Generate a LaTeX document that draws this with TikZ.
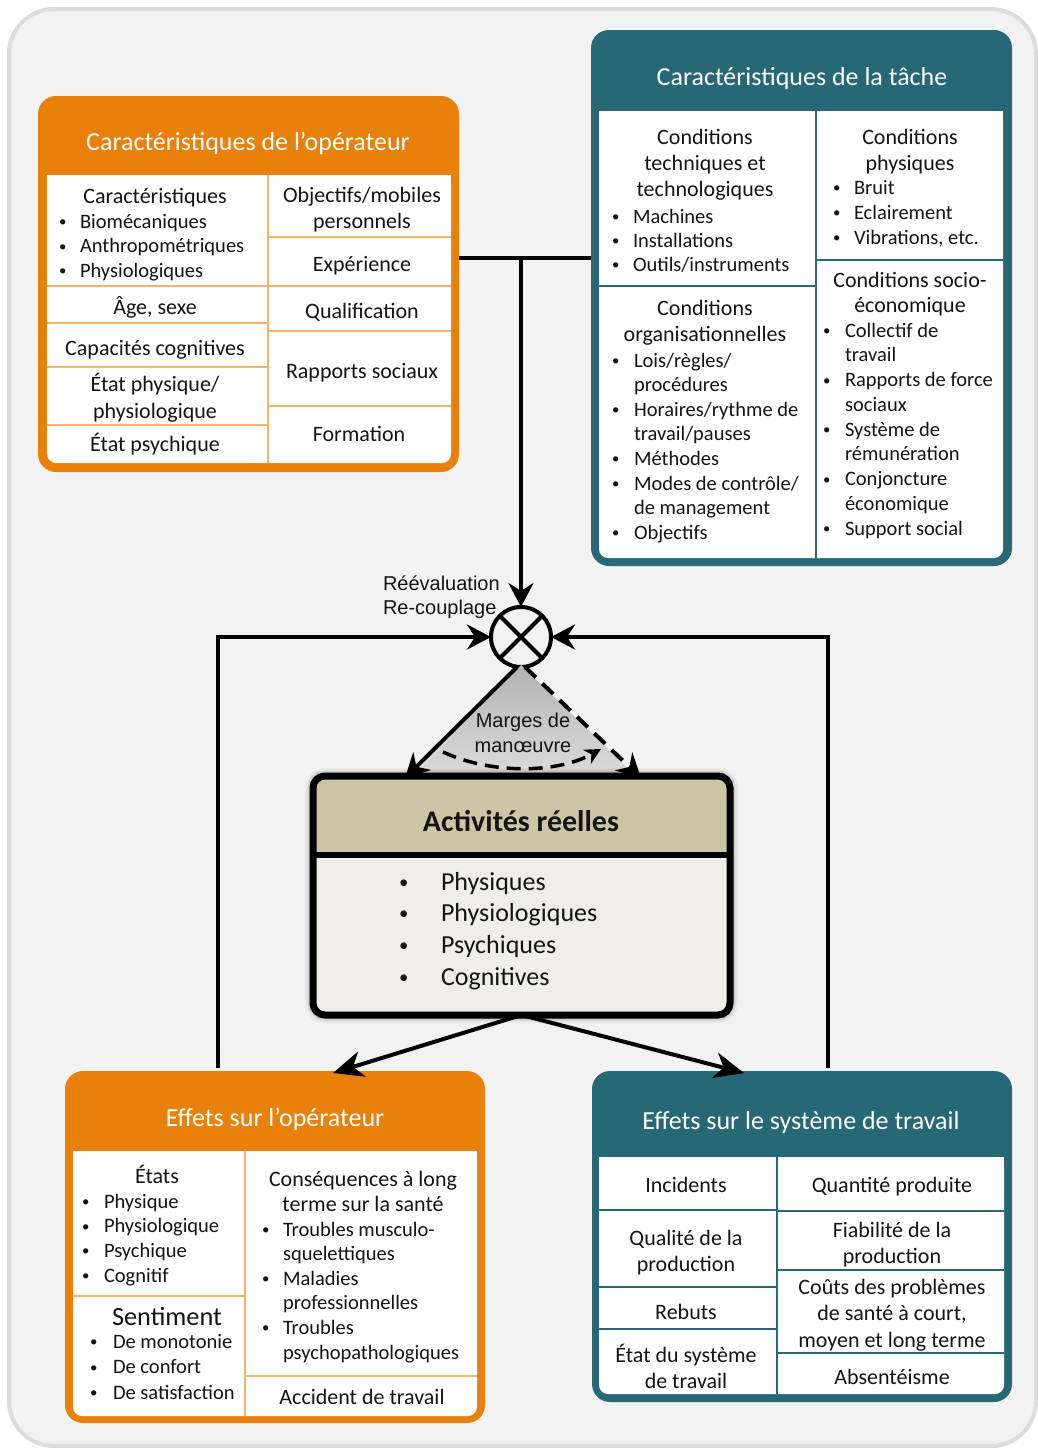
\documentclass[tikz,border=0pt]{standalone}
\usepackage{fontspec}
\usepackage{graphicx}
\setmainfont{Carlito}
\newfontfamily\arialf{Liberation Sans}
\usetikzlibrary{arrows.meta}
\definecolor{orng}{RGB}{232,128,10}
\definecolor{orngl}{RGB}{246,178,105}
\definecolor{tealc}{RGB}{38,104,118}
\definecolor{bgc}{RGB}{242,242,242}
\definecolor{bgline}{RGB}{220,220,220}
\definecolor{tanc}{RGB}{206,197,166}
\definecolor{actbody}{RGB}{239,238,232}
\definecolor{txt}{RGB}{20,20,20}
\newlength\bwid
\newcommand\bu{\makebox[\bwid][l]{\raisebox{0.07em}{\scalebox{0.72}{•}}}}
\newcommand\bc{\hspace*{\bwid}}
\newcommand\blist[2]{\setlength\bwid{#1}\begin{tabular}[t]{@{}l@{}}#2\end{tabular}}
\newcommand\ctab[1]{\begin{tabular}[t]{@{}c@{}}#1\end{tabular}}
\begin{document}
\begin{tikzpicture}[x=1pt,y=-1pt,
  every node/.style={inner sep=0pt, outer sep=0pt, text=txt},
  bd/.style={font=\fontsize{22}{25}\selectfont, anchor=base},
  bl/.style={font=\fontsize{20.5}{24.6}\selectfont, anchor=base west},
  ttl/.style={font=\fontsize{26}{30}\selectfont, text=white, anchor=base},
  obox/.style={fill=orng, rounded corners=18pt},
  tbox/.style={fill=tealc, rounded corners=18pt},
  cellO/.style={draw=orngl, line width=2pt},
  cellT/.style={draw=tealc, line width=2pt},
  conn/.style={line width=4pt, black},
  arr/.style={-{Stealth[length=24pt,width=25pt,inset=8pt]}},
  arrb/.style={-{Stealth[length=30pt,width=26pt,inset=9pt]}},
  lbl/.style={font=\arialf\fontsize{20}{24}\selectfont, anchor=base}
]
\useasboundingbox (0,0) rectangle (1038,1448);
\fill[white] (0,0) rectangle (1038,1448);
\draw[bgline, line width=4pt, fill=bgc, rounded corners=45pt] (9,9) rectangle (1036,1446);

% ---------- Caracteristiques de l'operateur ----------
\node[obox, minimum width=421pt, minimum height=376pt] (op) at (248.5,284) {};
\fill[white, rounded corners=9pt] (47,175) rectangle (451,463);
\fill[white] (47,175) rectangle (451,200);
\draw[cellO] (268,175) -- (268,463);
\draw[cellO] (47,286) -- (268,286) (47,323) -- (268,323) (47,367) -- (268,367) (47,425) -- (268,425);
\draw[cellO] (268,237) -- (451,237) (268,286) -- (451,286) (268,331) -- (451,331) (268,406) -- (451,406);
\node[ttl] (opT) at (248,150) {Caractéristiques de l’opérateur};
\node[bd] (o1) at (155,203) {Caractéristiques};
\node[bl] (o2) at (59,228) {\blist{21pt}{\bu Biomécaniques\\\bu Anthropométriques\\\bu Physiologiques}};
\node[bd] (o3) at (155,314) {Âge, sexe};
\node[bd] (o4) at (155,355) {Capacités cognitives};
\node[bd, font=\fontsize{22}{27}\selectfont] (o5) at (155,391) {\ctab{État physique/\\physiologique}};
\node[bd] (o6) at (155,451) {État psychique};
\node[bd, font=\fontsize{22}{26}\selectfont] (o7) at (362,202) {\ctab{Objectifs/mobiles\\personnels}};
\node[bd] (o8) at (362,271) {Expérience};
\node[bd] (o9) at (362,318) {Qualification};
\node[bd] (o10) at (362,378) {Rapports sociaux};
\node[bd] (o11) at (359,441) {Formation};

% ---------- Caracteristiques de la tache ----------
\node[tbox, minimum width=421pt, minimum height=536pt] (task) at (801.5,298) {};
\fill[white, rounded corners=9pt] (599,111) rectangle (1003,558);
\fill[white] (599,111) rectangle (1003,140);
\draw[cellT] (816,111) -- (816,558);
\draw[cellT] (599,286) -- (816,286) (816,260) -- (1003,260);
\node[ttl] (taskT) at (802,85) {Caractéristiques de la tâche};
\node[bd, font=\fontsize{22}{26}\selectfont] (t1) at (705,144) {\ctab{Conditions\\techniques et\\technologiques}};
\node[bl, font=\fontsize{20.5}{24}\selectfont] (t2) at (612,223) {\blist{21pt}{\bu Machines\\\bu Installations\\\bu Outils/instruments}};
\node[bd, font=\fontsize{22}{26}\selectfont] (t3) at (705,315) {\ctab{Conditions\\organisationnelles}};
\node[bl] (t4) at (612,367) {\blist{22pt}{\bu Lois/règles/\\\bc procédures\\\bu Horaires/rythme de\\\bc travail/pauses\\\bu Méthodes\\\bu Modes de contrôle/\\\bc de management\\\bu Objectifs}};
\node[bd, font=\fontsize{22}{26}\selectfont] (t5) at (910,144) {\ctab{Conditions\\physiques}};
\node[bl, font=\fontsize{20.5}{25}\selectfont] (t6) at (833,194) {\blist{21pt}{\bu Bruit\\\bu Eclairement\\\bu Vibrations, etc.}};
\node[bd, font=\fontsize{22}{25}\selectfont] (t7) at (910,287) {\ctab{Conditions socio-\\économique}};
\node[bl, font=\fontsize{20.5}{24.75}\selectfont] (t8) at (823,337) {\blist{22pt}{\bu Collectif de\\\bc travail\\\bu Rapports de force\\\bc sociaux\\\bu Système de\\\bc rémunération\\\bu Conjoncture\\\bc économique\\\bu Support social}};

% ---------- connectors top ----------
\coordinate (j) at (521,258);
\node[draw, circle, line width=4pt, minimum size=60pt, fill=bgc] (x) at (521,637) {};
\draw[line width=4pt] (x.north west) -- (x.south east) (x.north east) -- (x.south west);
\draw[conn] (op.east |- j) -- (task.west |- j);
\draw[conn, arr] (j) -- (x.north);
\node[lbl, anchor=base west] (r1) at (383,590) {Réévaluation};
\node[lbl, anchor=base west] (r2) at (383,614) {Re-couplage};

% ---------- triangle ----------
\coordinate (tl) at (405,778);
\coordinate (tr) at (641,778);
\shade[top color=black!30, bottom color=black!14] ([yshift=2pt]x.south) -- (412,776) -- (636,776) -- cycle;

% ---------- Activites reelles ----------
\foreach \s/\o in {16/0.04, 12/0.06, 9/0.08} {
  \draw[line width=\s pt, black, opacity=\o, rounded corners=12pt] (313,776) rectangle (730,1015);
}
\node[minimum width=417pt, minimum height=239pt, rounded corners=12pt, fill=actbody] (act) at (521.5,895.5) {};
\fill[tanc, rounded corners=12pt] (313,776) rectangle (730,830);
\fill[tanc] (313,810) rectangle (730,855);
\draw[line width=6pt] (313,855) -- (730,855);
\draw[line width=7pt, rounded corners=12pt] (act.north west) rectangle (act.south east);
\node[font=\bfseries\fontsize{30}{34}\selectfont, anchor=base] (actT) at (521,831) {Activités réelles};
\node[font=\fontsize{26}{31.7}\selectfont, anchor=base west] (actL) at (399,890) {\blist{42pt}{\bu Physiques\\\bu Physiologiques\\\bu Psychiques\\\bu Cognitives}};

\draw[conn, arr] ([xshift=-4pt]x.south) -- (tl);
\draw[conn, arr, dash pattern=on 15pt off 9pt] ([xshift=4pt]x.south) -- (tr);
\coordinate (cu1) at (443,752);
\coordinate (cu2) at (601,749);
\draw[line width=3.5pt, dash pattern=on 14pt off 8pt, -{Stealth[length=16pt,width=16pt,inset=5pt]}] (cu1) .. controls (490,774) and (556,774) .. (cu2);
\node[lbl] (m1) at (523,727) {Marges de};
\node[lbl] (m2) at (523,752) {manœuvre};

% ---------- Effets sur l'operateur ----------
\node[obox, minimum width=420pt, minimum height=352pt] (eop) at (275,1247) {};
\fill[white, rounded corners=9pt] (73,1151) rectangle (477,1416);
\fill[white] (73,1151) rectangle (477,1180);
\draw[cellO] (245,1151) -- (245,1416);
\draw[cellO] (73,1296) -- (245,1296) (245,1376) -- (477,1376);
\node[ttl] (eopT) at (275,1126) {Effets sur l’opérateur};
\node[bd] (e1) at (157,1183) {États};
\node[bl, font=\fontsize{20.5}{24.7}\selectfont] (e2) at (82,1208) {\blist{22pt}{\bu Physique\\\bu Physiologique\\\bu Psychique\\\bu Cognitif}};
\node[bd, font=\fontsize{26.3}{30}\selectfont] (e3) at (167,1325) {Sentiment};
\node[bl, font=\fontsize{20.5}{25.5}\selectfont] (e4) at (90,1348) {\blist{23pt}{\bu De monotonie\\\bu De confort\\\bu De satisfaction}};
\node[bd] (e5) at (363,1186) {\ctab{Conséquences à long\\terme sur la santé}};
\node[bl] (e6) at (262,1236) {\blist{21pt}{\bu Troubles musculo-\\\bc squelettiques\\\bu Maladies\\\bc professionnelles\\\bu Troubles\\\bc psychopathologiques}};
\node[bd] (e7) at (362,1404) {Accident de travail};

% ---------- Effets sur le systeme de travail ----------
\node[tbox, minimum width=420pt, minimum height=331pt] (esys) at (802,1236.5) {};
\fill[white, rounded corners=9pt] (599,1157) rectangle (1004,1394);
\fill[white] (599,1157) rectangle (1004,1180);
\draw[cellT] (777,1157) -- (777,1394);
\draw[cellT] (599,1210) -- (777,1210) (599,1287) -- (777,1287) (599,1329) -- (777,1329);
\draw[cellT] (777,1211) -- (1004,1211) (777,1270) -- (1004,1270) (777,1353) -- (1004,1353);
\node[ttl] (esysT) at (801,1129) {Effets sur le système de travail};
\node[bd] (s1) at (686,1192) {Incidents};
\node[bd, font=\fontsize{22}{26}\selectfont] (s2) at (686,1245) {\ctab{Qualité de la\\production}};
\node[bd] (s3) at (686,1319) {Rebuts};
\node[bd, font=\fontsize{22}{26}\selectfont] (s4) at (686,1362) {\ctab{État du système\\de travail}};
\node[bd] (s5) at (892,1192) {Quantité produite};
\node[bd, font=\fontsize{22}{26}\selectfont] (s6) at (892,1237) {\ctab{Fiabilité de la\\production}};
\node[bd, font=\fontsize{22}{26.5}\selectfont] (s7) at (892,1294) {\ctab{Coûts des problèmes\\de santé à court,\\moyen et long terme}};
\node[bd] (s8) at (892,1384) {Absentéisme};

% ---------- bottom connectors ----------
\coordinate (ta) at (333,1073);
\coordinate (tb) at (744,1073);
\draw[conn, arrb] (act.south) -- (ta);
\draw[conn, arrb] (act.south) -- (tb);
\coordinate (lb) at (218,1068);
\coordinate (rb) at (828,1068);
\draw[conn, arr] (lb) |- (x.west);
\draw[conn, arr] (rb) |- (x.east);
\end{tikzpicture}
\end{document}
